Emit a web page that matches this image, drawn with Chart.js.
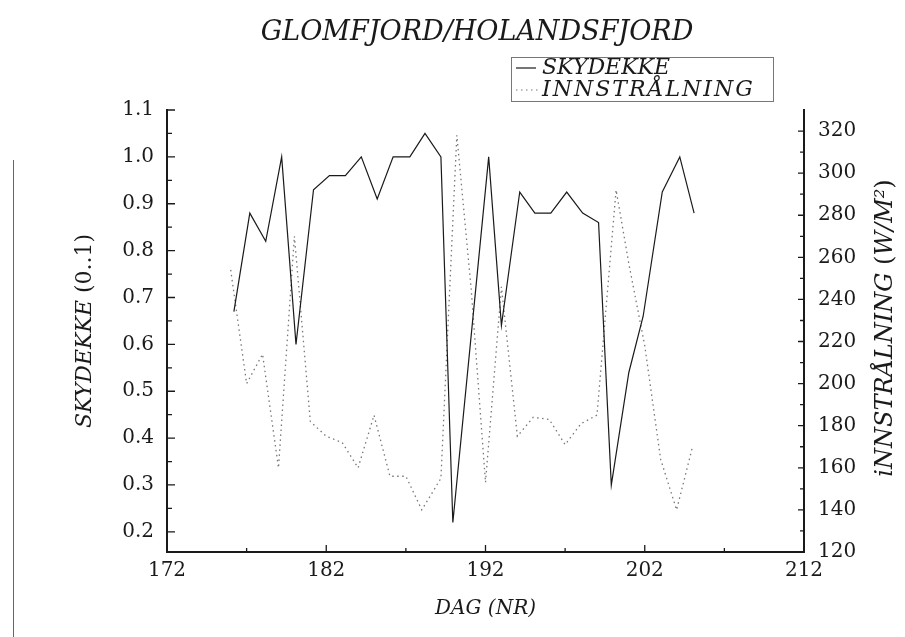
<!DOCTYPE html>
<html><head><meta charset="utf-8">
<script src="https://cdn.jsdelivr.net/npm/chart.js@4.4.0/dist/chart.umd.min.js"></script>
<style>html,body{margin:0;padding:0;background:#fff;}#wrap{width:905px;height:637px;}</style>
</head><body><div id="wrap"><canvas id="c" width="905" height="637"></canvas></div>
<script>
const chartTitle = 'GLOMFJORD/HOLANDSFJORD';
const skyLabel = 'SKYDEKKE';
const radLabel = 'INNSTRÅLNING';
const xTitle = 'DAG (NR)';

// SKYDEKKE (cloud cover, left axis)
const skyDays  = [176.2,177.2,178.2,179.2,180.1,181.2,182.2,183.2,184.2,185.2,186.2,187.25,188.2,189.2,189.95,192.2,193.0,194.15,195.1,196.1,197.1,198.1,199.1,199.9,201.0,201.9,203.1,204.2,205.1];
const skyCover = [0.67,0.88,0.82,1.00,0.60,0.93,0.96,0.96,1.00,0.91,1.00,1.00,1.05,1.00,0.22,1.00,0.64,0.925,0.88,0.88,0.925,0.88,0.86,0.30,0.54,0.66,0.925,1.00,0.88];

// INNSTRÅLNING (radiation W/M2, right axis)
const radDays   = [176,177,178,179,180,181,182,183,184,185,186,187,188,189.2,190.2,191.1,192,193,194,195,196,197,198,199,200.2,201,202,203,204,205];
const radValues = [254,200,214,160,270,182,175,172,160,185,156,156,140,155,318,245,153,246,175,184,183,171,181,185,292,257,218,164,140,170];

const leftTicks  = [0.2,0.3,0.4,0.5,0.6,0.7,0.8,0.9,1.0,1.1];
const rightTicks = [120,140,160,180,200,220,240,260,280,300,320];
const xTicks     = [172,182,192,202,212];

const SERIF = '"DejaVu Serif", "Liberation Serif", serif';
const INK = '#1a1a1a';

function drawParts(ctx, parts, cx, cy, rotate) {
  ctx.save();
  ctx.translate(cx, cy);
  if (rotate) ctx.rotate(-Math.PI / 2);
  let total = 0;
  parts.forEach(p => { ctx.font = p[1]; total += ctx.measureText(p[0]).width; });
  let x = -total / 2;
  ctx.textBaseline = 'middle';
  ctx.textAlign = 'left';
  ctx.fillStyle = INK;
  parts.forEach(p => { ctx.font = p[1]; ctx.fillText(p[0], x, 0); x += ctx.measureText(p[0]).width; });
  ctx.restore();
}

const decor = {
  id: 'decor',
  afterDraw(chart) {
    const ctx = chart.ctx, a = chart.chartArea;
    const sx = chart.scales.x, sl = chart.scales.yL, sr = chart.scales.yR;
    ctx.save();
    // page edge line at far left
    ctx.strokeStyle = '#666'; ctx.lineWidth = 1;
    ctx.beginPath(); ctx.moveTo(13.5, 160); ctx.lineTo(13.5, 637); ctx.stroke();
    // inward ticks
    ctx.strokeStyle = INK; ctx.lineWidth = 1.3;
    const tickSet = (vals, fn) => {
      vals.forEach((v, i) => {
        fn(v, true);
        if (i < vals.length - 1) fn((v + vals[i + 1]) / 2, false);
      });
    };
    ctx.beginPath();
    tickSet(leftTicks, (v, major) => { const y = sl.getPixelForValue(v); ctx.moveTo(a.left, y); ctx.lineTo(a.left + (major ? 8 : 5), y); });
    tickSet(rightTicks, (v, major) => { const y = sr.getPixelForValue(v); ctx.moveTo(a.right, y); ctx.lineTo(a.right - (major ? 6 : 4), y); });
    tickSet(xTicks, (v, major) => { const x = sx.getPixelForValue(v); ctx.moveTo(x, a.bottom); ctx.lineTo(x, a.bottom - (major ? 7 : 4)); });
    ctx.stroke();
    // title
    drawParts(ctx, [[chartTitle, 'italic 27px ' + SERIF]], 477, 33, false);
    // legend box
    ctx.strokeStyle = '#777'; ctx.lineWidth = 1;
    ctx.strokeRect(511.5, 57.5, 262, 44);
    ctx.strokeStyle = INK; ctx.lineWidth = 1.2; ctx.setLineDash([]);
    ctx.beginPath(); ctx.moveTo(516, 68); ctx.lineTo(536, 68); ctx.stroke();
    ctx.strokeStyle = '#777'; ctx.setLineDash([1.5, 3.5]);
    ctx.beginPath(); ctx.moveTo(516, 90); ctx.lineTo(538, 90); ctx.stroke();
    ctx.setLineDash([]);
    ctx.font = 'italic 22px ' + SERIF; ctx.fillStyle = INK; ctx.textBaseline = 'middle'; ctx.textAlign = 'left';
    ctx.fillText(chart.data.datasets[0].label, 542, 68);
    if ('letterSpacing' in ctx) ctx.letterSpacing = '2px';
    ctx.fillText(chart.data.datasets[1].label, 542, 90);
    if ('letterSpacing' in ctx) ctx.letterSpacing = '0px';
    // axis titles
    drawParts(ctx, [['SKYDEKKE', 'italic 22px ' + SERIF], [' (0..1)', '22px ' + SERIF]], 85, 331, true);
    drawParts(ctx, [['iNNSTRÅLNING', 'italic 24px ' + SERIF], [' (', '24px ' + SERIF], ['W/M²', 'italic 24px ' + SERIF], [')', '24px ' + SERIF]], 886, 328, true);
    ctx.restore();
  }
};

new Chart(document.getElementById('c'), {
  type: 'line',
  data: {
    datasets: [
      { label: skyLabel, yAxisID: 'yL', data: skyDays.map((d, i) => ({ x: d, y: skyCover[i] })),
        borderColor: INK, borderWidth: 1.2, pointRadius: 0, tension: 0, fill: false },
      { label: radLabel, yAxisID: 'yR', data: radDays.map((d, i) => ({ x: d, y: radValues[i] })),
        borderColor: '#777', borderWidth: 1.3, borderDash: [1.5, 3.5], pointRadius: 0, tension: 0, fill: false }
    ]
  },
  options: {
    responsive: false, animation: false, devicePixelRatio: 1,
    layout: { padding: { top: 110, left: 0, right: 0, bottom: 0 } },
    plugins: { legend: { display: false }, title: { display: false }, tooltip: { enabled: false } },
    scales: {
      x: {
        type: 'linear', position: 'bottom', min: 172, max: 212,
        afterBuildTicks: s => { s.ticks = xTicks.map(v => ({ value: v })); },
        afterFit: s => { s.height = 85; },
        grid: { display: false, drawTicks: false },
        border: { display: true, color: INK, width: 2 },
        ticks: { autoSkip: false, maxRotation: 0, padding: 7, color: INK, font: { family: SERIF, size: 20 }, callback: v => String(v) },
        title: { display: true, text: xTitle, color: INK, font: { family: SERIF, size: 20, style: 'italic' }, padding: { top: 0, bottom: 16 } }
      },
      yL: {
        type: 'linear', position: 'left', min: 0.157, max: 1.1,
        afterBuildTicks: s => { s.ticks = leftTicks.map(v => ({ value: v })); },
        afterFit: s => { s.width = 167; },
        grid: { display: false, drawTicks: false },
        border: { display: true, color: INK, width: 2 },
        ticks: { autoSkip: false, padding: 13, color: INK, font: { family: SERIF, size: 20 }, callback: v => v.toFixed(1) }
      },
      yR: {
        type: 'linear', position: 'right', min: 120, max: 330,
        afterBuildTicks: s => { s.ticks = rightTicks.map(v => ({ value: v })); },
        afterFit: s => { s.width = 101; },
        grid: { display: false, drawTicks: false },
        border: { display: true, color: INK, width: 2 },
        ticks: { autoSkip: false, padding: 14, color: INK, font: { family: SERIF, size: 20 }, callback: v => String(v) }
      }
    }
  },
  plugins: [decor]
});
</script></body></html>
